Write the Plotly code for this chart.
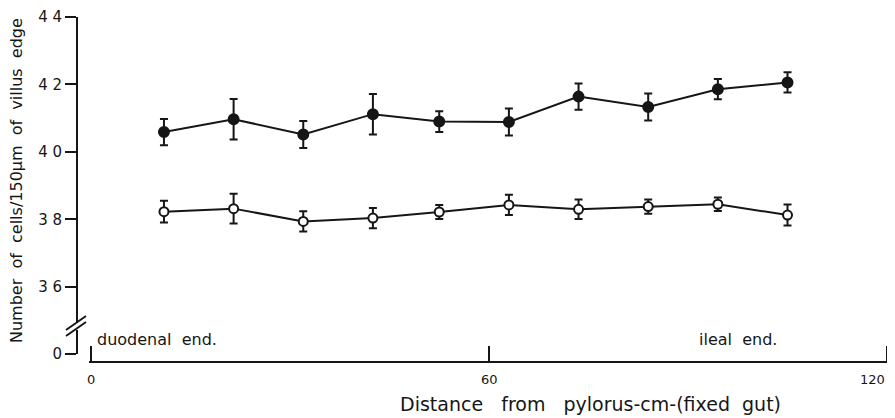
import plotly.graph_objects as go

# Distance from pylorus (cm, fixed gut)
distance_cm = [11, 21.5, 32, 42.5, 52.5, 63, 73.5, 84, 94.5, 105]

# Filled circles (upper series) and their error bars
filled_cells = [40.59, 40.97, 40.52, 41.12, 40.90, 40.89, 41.64, 41.33, 41.86, 42.06]
filled_err = [0.39, 0.60, 0.40, 0.60, 0.31, 0.40, 0.39, 0.40, 0.30, 0.30]

# Open circles (lower series) and their error bars
open_cells = [38.23, 38.32, 37.94, 38.04, 38.22, 38.43, 38.30, 38.38, 38.45, 38.13]
open_err = [0.32, 0.44, 0.30, 0.30, 0.21, 0.30, 0.29, 0.21, 0.20, 0.31]

y_ticks = [36, 38, 40, 42, 44]
x_ticks = [0, 60, 120]

INK = '#161616'
FONT = 'DejaVu Sans'

# the page body adds an 8px offset, so the figure is drawn 8px smaller
# and all pixel positions below are given in screenshot pixels
OFF = 8
W, H = 895 - OFF, 418 - OFF
# plot area in screenshot pixels: left 77, right 889, top 10, bottom 362
L, R, T, B = 77 - OFF, 6, 10 - OFF, 56


def px_x(px):
    return (px - OFF - L) / (W - L - R)


def px_y(py):
    return (H - B - (py - OFF)) / (H - T - B)


def make_series(y, err, fill):
    return go.Scatter(
        x=distance_cm, y=y,
        mode='lines+markers',
        line=dict(color=INK, width=2),
        marker=dict(size=10 if fill == INK else 9, color=fill,
                    line=dict(color=INK, width=2)),
        error_y=dict(type='data', array=err, color=INK, thickness=2, width=4),
        showlegend=False,
        hoverinfo='x+y',
    )


fig = go.Figure()
fig.add_trace(make_series(filled_cells, filled_err, INK))
fig.add_trace(make_series(open_cells, open_err, 'white'))
# empty trace so the short "0" segment of the broken axis is drawn
fig.add_trace(go.Scatter(x=[], y=[], xaxis='x', yaxis='y2', showlegend=False))

axis_font = dict(family=FONT, size=15, color=INK)

fig.update_layout(
    width=W, height=H,
    margin=dict(l=L, r=R, t=T, b=B, autoexpand=False),
    paper_bgcolor='white', plot_bgcolor='white',
    xaxis=dict(
        # range padded a little so the end ticks at 0 and 120 are drawn
        domain=[px_x(89), 1], range=[-0.3, 120.3],
        anchor='free', position=0, automargin=False,
        showline=True, linecolor=INK, linewidth=2,
        ticks='inside', ticklen=15, tickwidth=2, tickcolor=INK,
        tickvals=x_ticks, showticklabels=False,
        showgrid=False, zeroline=False,
    ),
    yaxis=dict(
        domain=[px_y(323), px_y(17)], range=[34.93, 44],
        anchor='free', position=0, automargin=False,
        showline=True, linecolor=INK, linewidth=2,
        ticks='outside', ticklen=11, tickwidth=2, tickcolor=INK,
        tickvals=y_ticks, ticktext=[' '.join(str(v)) for v in y_ticks],
        tickfont=axis_font, ticklabeloverflow='allow',
        showgrid=False, zeroline=False,
    ),
    yaxis2=dict(
        domain=[px_y(354), px_y(330)], range=[0, 1],
        anchor='free', position=0, automargin=False,
        showline=True, linecolor=INK, linewidth=2,
        ticks='outside', ticklen=11, tickwidth=2, tickcolor=INK,
        tickvals=[0], ticktext=['0'],
        tickfont=axis_font, ticklabeloverflow='allow',
        showgrid=False, zeroline=False,
    ),
)

# x tick labels; the last one is kept inside the right edge
for v in x_ticks:
    fig.add_annotation(text=str(v), xref='x', yref='paper', x=v, y=px_y(380),
                       xanchor='right' if v == x_ticks[-1] else 'center',
                       yanchor='middle', showarrow=False,
                       font=dict(family=FONT, size=13, color=INK))

# axis break marks "//"
for y0 in (336, 330):
    fig.add_shape(type='line', xref='paper', yref='paper',
                  x0=px_x(66), y0=px_y(y0), x1=px_x(86), y1=px_y(y0 - 14),
                  line=dict(color=INK, width=2))

label_font = dict(family=FONT, size=16, color=INK)

fig.add_annotation(text='duodenal  end.', xref='paper', yref='paper',
                   x=px_x(95), y=px_y(339), xanchor='left', yanchor='middle',
                   showarrow=False, font=label_font)
fig.add_annotation(text='ileal  end.', xref='paper', yref='paper',
                   x=px_x(697), y=px_y(339), xanchor='left', yanchor='middle',
                   showarrow=False, font=label_font)
fig.add_annotation(text='Number  of  cells/150\u00b5m  of  villus  edge',
                   xref='paper', yref='paper', textangle=-90,
                   x=px_x(16), y=px_y(181), xanchor='center', yanchor='middle',
                   showarrow=False, font=dict(family=FONT, size=16, color=INK))
fig.add_annotation(text='Distance   from   pylorus-cm-(fixed  gut)',
                   xref='paper', yref='paper',
                   x=px_x(590), y=px_y(404), xanchor='center', yanchor='middle',
                   showarrow=False, font=dict(family=FONT, size=19, color=INK))

fig.write_html('out.html')
